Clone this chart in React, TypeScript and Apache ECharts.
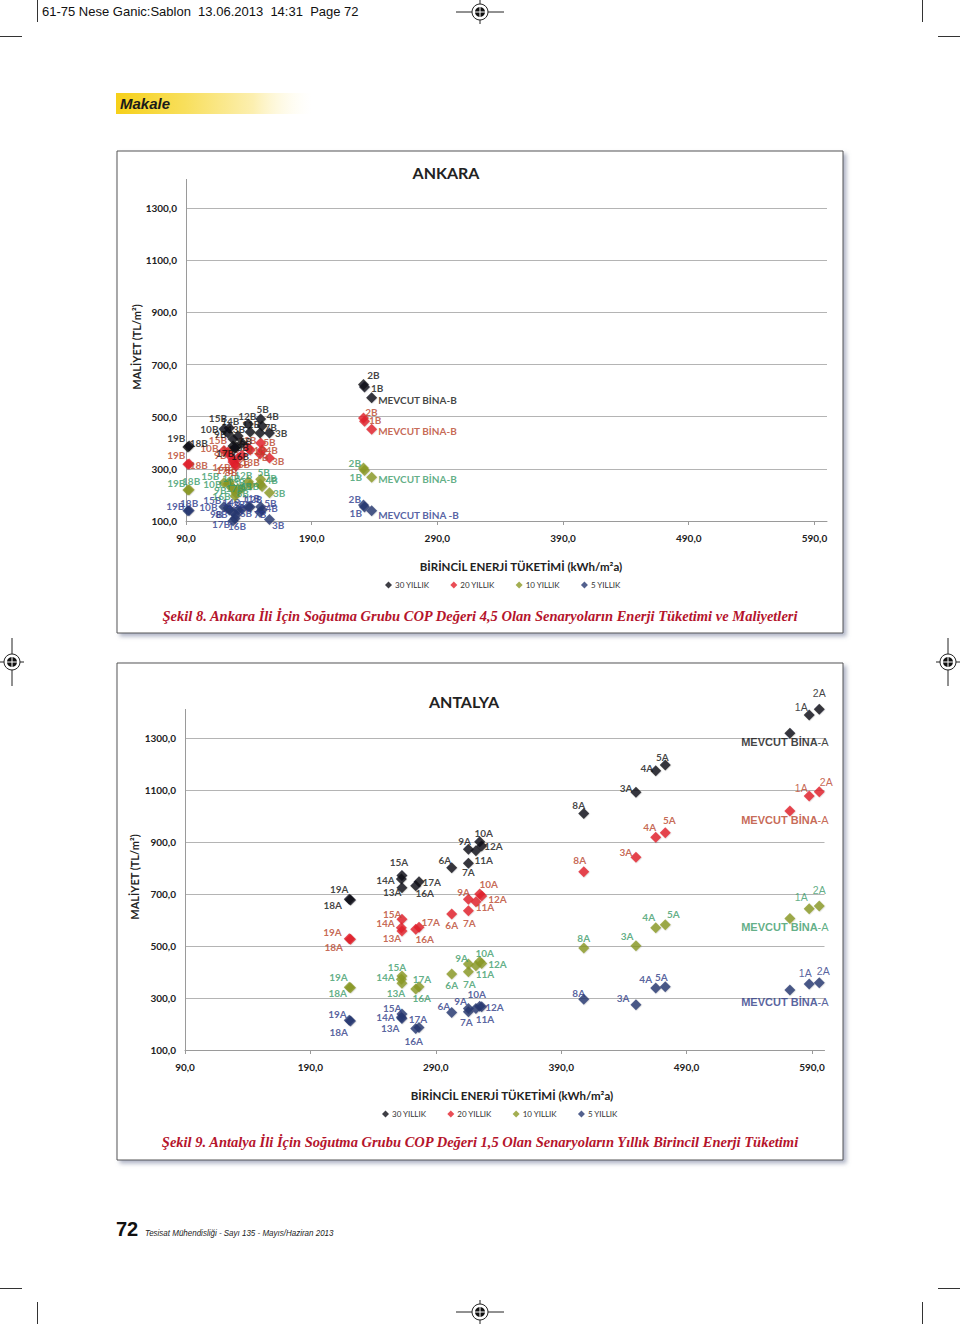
import React, { useEffect, useRef } from 'react';
import * as echarts from 'echarts';

const SERIES_NAMES = ['30 YILLIK', '20 YILLIK', '10 YILLIK', '5 YILLIK'];
const MARKER_COLORS = ['#0e0e16', '#e3212b', '#8c9a26', '#283a72'];
const ANKARA_LABEL_COLORS = ['#111111', '#b8432a', '#3a9a68', '#2c3a8c'];
const ANTALYA_LABEL_COLORS = ['#111111', '#b8432a', '#3a9a68', '#2e3b86'];

// ---- ANKARA (COP 4,5) ----
const ANKARA_SCENARIOS = ['19B', '18B', '15B', '10B', '14B', '9B', '17B', '16B', '8B', '13B', '6B', '11B', '12B', '5B', '4B', '7B', '3B', '2B', '1B', 'MEVCUT BİNA-B'];
const ANKARA_ENERGY = [91.5, 92.5, 120.2, 123.4, 124.5, 127.4, 127.4, 129.0, 129.8, 131.4, 134.5, 141.0, 139.6, 149.4, 150.5, 148.9, 156.4, 231.2, 232.0, 237.7];
const ANKARA_COST_30 = [384, 388, 453, 437, 457, 414, 388, 380, 384, 426, 399, 441, 472, 491, 464, 437, 437, 623, 614, 573];
const ANKARA_COST_20 = [318, 319, 370, 365, 353, 334, 326, 318, 311, 342, 353, 372, 380, 399, 372, 357, 342, 495, 483, 452];
const ANKARA_COST_10 = [219, 220, 247, 242, 250, 226, 225, 196, 207, 223, 226, 238, 251, 260, 232, 242, 208, 303, 294, 268];
const ANKARA_COST_5 = [139, 140, 155, 150, 142, 134, 101, 110, 123, 142, 145, 154, 155, 155, 142, 134, 106, 161, 154, 139];

// ---- ANTALYA (COP 1,5) ----
const ANTALYA_SCENARIOS = ['19A', '18A', '15A', '14A', '13A', '17A', '16A', '6A', '7A', '9A', '11A', '10A', '12A', '8A', '3A', '4A', '5A', 'MEVCUT BİNA-A', '1A', '2A'];
const ANTALYA_ENERGY = [221.0, 222.0, 263.0, 262.5, 263.0, 276.6, 274.0, 302.7, 316.0, 316.0, 322.0, 325.0, 326.6, 408.0, 449.6, 465.4, 473.0, 572.4, 587.8, 595.8];
const ANTALYA_COST_30 = [680, 677, 771, 758, 724, 747, 732, 801, 818, 872, 866, 901, 885, 1010, 1091, 1174, 1196, 1318, 1388, 1411];
const ANTALYA_COST_20 = [528, 526, 603, 570, 558, 572, 564, 623, 636, 680, 670, 700, 692, 786, 841, 918, 936, 1019, 1077, 1093];
const ANTALYA_COST_10 = [341, 339, 385, 372, 357, 343, 335, 392, 401, 431, 424, 440, 433, 492, 501, 570, 582, 606, 643, 654];
const ANTALYA_COST_5 = [214, 212, 238, 226, 221, 187, 183, 244, 247, 260, 260, 268, 266, 295, 274, 338, 343, 331, 354, 359];

const Y_MIN = 100;
const Y_MAX = 1410;
const Y_STEP = 200;
const X_MIN = 90;
const X_MAX = 600;
const X_STEP = 100;

// label placement (layout only): [position, dx, dy, text?]
type Place = [string, number, number, string?];
const ANKARA_PLACE: Record<string, Place> = {
  '19B': ['left', 4, -9], '18B': ['right', -6, -3], '15B': ['top', -6, 1], '14B': ['top', 1, 5],
  '10B': ['left', -3, -4], '9B': ['left', 0, -5], '13B': ['top', -2, 5], '12B': ['top', -1, 4],
  '5B': ['top', 2, 1], '4B': ['right', -2, -10], '7B': ['right', -2, -6], '3B': ['right', -1, 0],
  '11B': ['top', 1, 3], '6B': ['right', -9, -2], '8B': ['right', -6, 0], '16B': ['bottom', 5, -3],
  '17B': ['bottom', -8, -4], '2B': ['top', 10, 2], '1B': ['right', 0, 1], 'MEVCUT BİNA-B': ['right', 0, 2],
};
const ANKARA_OVERRIDE: Record<string, Place> = {
  '1:2B': ['top', 8, 6], '1:1B': ['right', -2, -1], '1:16B': ['left', 2, 3], '1:13B': ['right', -3, 4],
  '1:5B': ['right', -4, -1], '1:4B': ['right', -3, 0], '1:7B': ['bottom', 2, -8], '1:3B': ['right', -4, 3],
  '1:6B': ['bottom', 2, -3], '1:8B': ['bottom', -5, -5], '1:11B': ['right', -9, 0], '1:18B': ['right', -6, 1],
  '2:2B': ['left', 4, -5], '2:1B': ['left', 4, 7], '2:15B': ['left', 2, -7], '2:18B': ['top', 2, 3],
  '2:10B': ['left', 0, 0], '2:14B': ['top', 2, 8], '2:9B': ['left', 0, 2], '2:17B': ['right', -14, 0],
  '2:16B': ['left', 2, 0], '2:12B': ['top', -5, 5], '2:5B': ['top', 3, 4], '2:4B': ['right', -3, -7],
  '2:11B': ['bottom', 0, -11], '2:3B': ['right', -3, 0], '2:19B': ['left', 4, -7],
  '3:2B': ['left', 4, -6], '3:1B': ['left', 4, 6], '3:MEVCUT BİNA-B': ['right', 0, 4, 'MEVCUT BİNA -B'],
  '3:19B': ['left', 3, -5], '3:18B': ['top', 0, 4], '3:15B': ['left', 4, -7], '3:10B': ['left', -4, -1],
  '3:9B': ['left', -4, 2], '3:8B': ['left', -2, -1], '3:14B': ['top', 2, 3], '3:12B': ['top', 5, 4],
  '3:5B': ['right', -3, -4], '3:4B': ['right', -3, -2], '3:7B': ['bottom', 0, -10], '3:6B': ['bottom', 4, -8],
  '3:3B': ['right', -4, 6], '3:17B': ['bottom', -12, -8], '3:16B': ['bottom', 2, -4],
};
const ANTALYA_PLACE: Record<string, Place> = {
  '1A': ['left', 5, -8], '2A': ['top', 0, -4], 'MEVCUT BİNA-A': ['bottom', -5, -3], '5A': ['top', -3, 3],
  '4A': ['left', 4, -3], '3A': ['left', 3, -4], '8A': ['top', -5, 3], '10A': ['top', 4, 3],
  '9A': ['left', 9, -8], '12A': ['right', -4, 0], '11A': ['right', -8, 9], '6A': ['left', 6, -8],
  '7A': ['bottom', 0, -3], '15A': ['top', -3, -2], '14A': ['left', 0, 1], '13A': ['left', 6, 4],
  '17A': ['right', -3, 0], '16A': ['bottom', 9, -4], '19A': ['top', -10, 1], '18A': ['left', -2, 5],
};
const ANTALYA_OVERRIDE: Record<string, Place> = {
  '1:2A': ['top', 7, 2], '1:5A': ['top', 4, -1], '1:4A': ['top', -6, 1], '1:3A': ['top', -10, 6],
  '1:8A': ['top', -4, 0], '1:10A': ['top', 9, 1], '1:12A': ['right', 0, 3], '1:11A': ['bottom', 9, -6],
  '1:9A': ['left', 8, -7], '1:7A': ['bottom', 1, 1], '1:6A': ['bottom', 0, -1], '1:17A': ['right', -4, -5],
  '1:16A': ['bottom', 9, -2], '1:15A': ['left', 6, -5], '1:14A': ['left', 0, -5], '1:13A': ['bottom', -10, -4],
  '1:19A': ['left', -1, -7], '1:18A': ['left', -1, 8],
  '2:1A': ['left', 5, -12], '2:5A': ['top', 8, 1], '2:4A': ['top', -7, 1], '2:3A': ['left', 4, -10],
  '2:8A': ['top', 0, 1], '2:10A': ['top', 5, 3], '2:12A': ['right', 0, 1], '2:11A': ['bottom', 9, -3],
  '2:9A': ['left', 6, -6], '2:7A': ['bottom', 1, 1], '2:6A': ['bottom', 0, -1], '2:17A': ['top', 3, 4],
  '2:16A': ['bottom', 6, -2], '2:15A': ['top', -5, 3], '2:14A': ['left', 0, -2], '2:13A': ['bottom', -6, -2],
  '2:19A': ['left', 5, -10], '2:18A': ['left', 3, 5],
  '3:2A': ['top', 4, 0], '3:1A': ['left', 9, -11], '3:MEVCUT BİNA-A': ['bottom', -5, 0], '3:5A': ['top', -4, 2],
  '3:4A': ['top', -10, 2], '3:3A': ['left', 0, -7], '3:8A': ['top', -5, 5], '3:10A': ['top', -3, -1],
  '3:12A': ['right', -3, 0], '3:11A': ['bottom', 9, -1], '3:9A': ['left', 5, -7], '3:7A': ['bottom', -2, -1],
  '3:6A': ['left', 5, -7], '3:17A': ['top', -1, 3], '3:16A': ['bottom', -2, 1], '3:15A': ['left', 6, -6],
  '3:14A': ['left', 0, 0], '3:13A': ['left', 4, 9], '3:19A': ['left', 4, -6], '3:18A': ['left', 4, 11],
};

const fmt = (v: number) => v.toFixed(1).replace('.', ',');
const LABEL_FONT = 'Lato, "Open Sans", sans-serif';

function buildSeries(
  gridIdx: number, names: string[], xs: number[], costs: number[][],
  place: Record<string, Place>, over: Record<string, Place>, labelColors: string[], antalya: boolean,
) {
  return costs.map((ys, si) => {
    const places = names.map((n) => over[`${si}:${n}`] || place[n] || (['right', 0, 0] as Place));
    return {
      type: 'scatter',
      name: SERIES_NAMES[si],
      xAxisIndex: gridIdx,
      yAxisIndex: gridIdx,
      symbol: 'diamond',
      symbolSize: 11,
      clip: false,
      z: 10 - si,
      itemStyle: { color: MARKER_COLORS[si], shadowColor: 'rgba(0,0,0,0.25)', shadowBlur: 1, shadowOffsetX: 0.5, shadowOffsetY: 0.5 },
      labelLayout: (p: any) => {
        const pl = places[p.dataIndex];
        return { dx: pl ? pl[1] : 0, dy: pl ? pl[2] : 0, hideOverlap: false };
      },
      label: {
        show: true,
        color: labelColors[si],
        fontFamily: LABEL_FONT,
        fontWeight: 'bold',
        fontSize: 10,
        distance: 1,
        rich: {
          m: { fontFamily: '"Liberation Sans", Arial, sans-serif', fontWeight: 'bold', fontSize: 11, color: labelColors[si] },
          n: { fontFamily: '"Liberation Sans", Arial, sans-serif', fontWeight: 'normal', fontSize: 11, color: labelColors[si] },
          a: { fontFamily: '"Liberation Sans", Arial, sans-serif', fontWeight: 'normal', fontSize: 10.5, color: labelColors[si] },
        },
      },
      data: names.map((n, i) => {
        const p = places[i];
        let text = p[3] || n;
        if (antalya && n.startsWith('MEVCUT')) text = '{m|MEVCUT BİNA}{n|-A}';
        else if (antalya && (n === '1A' || n === '2A')) text = `{a|${n}}`;
        return {
          name: n,
          value: [xs[i], ys[i]],
          label: { position: p[0], formatter: text },
        };
      }),
    };
  });
}

function axesFor(gridIdx: number) {
  const labelStyle = { color: '#222', fontFamily: LABEL_FONT, fontWeight: 'bold', fontSize: 10 };
  return {
    x: {
      type: 'value', gridIndex: gridIdx, min: X_MIN, max: X_MAX, interval: X_STEP,
      axisLine: { show: true, lineStyle: { color: '#9a9a9a' } },
      axisTick: { show: true, length: 4, lineStyle: { color: '#9a9a9a' } },
      splitLine: { show: false },
      axisLabel: { ...labelStyle, margin: 12, formatter: fmt, showMaxLabel: false },
    },
    y: {
      type: 'value', gridIndex: gridIdx, min: Y_MIN, max: Y_MAX, interval: Y_STEP,
      axisLine: { show: true, onZero: false, lineStyle: { color: '#9a9a9a' } },
      axisTick: { show: false },
      splitLine: { show: true, showMaxLine: false, lineStyle: { color: '#b4b4b4', width: 1 } },
      axisLabel: { ...labelStyle, margin: 9, formatter: fmt, showMaxLabel: false },
    },
  };
}

function regMark(cx: number, cy: number, vertical: boolean) {
  const els: any[] = [];
  if (vertical) {
    els.push({ type: 'line', shape: { x1: cx, y1: cy - 24, x2: cx, y2: cy + 24 }, style: { stroke: '#222', lineWidth: 1 } });
    els.push({ type: 'line', shape: { x1: cx - 12, y1: cy, x2: cx + 12, y2: cy }, style: { stroke: '#222', lineWidth: 1 } });
  } else {
    els.push({ type: 'line', shape: { x1: cx - 24, y1: cy, x2: cx + 24, y2: cy }, style: { stroke: '#222', lineWidth: 1 } });
    els.push({ type: 'line', shape: { x1: cx, y1: cy - 12, x2: cx, y2: cy + 12 }, style: { stroke: '#222', lineWidth: 1 } });
  }
  els.push({ type: 'circle', shape: { cx, cy, r: 8 }, style: { fill: '#fff', stroke: '#222', lineWidth: 1 } });
  els.push({ type: 'circle', shape: { cx, cy, r: 5 }, style: { fill: '#111' } });
  els.push({ type: 'line', shape: { x1: cx - 5, y1: cy, x2: cx + 5, y2: cy }, style: { stroke: '#fff', lineWidth: 1 } });
  els.push({ type: 'line', shape: { x1: cx, y1: cy - 5, x2: cx, y2: cy + 5 }, style: { stroke: '#fff', lineWidth: 1 } });
  return els;
}

function txt(x: number, y: number, text: string, font: string, fill: string, align = 'left', extra: any = {}) {
  return { type: 'text', x, y, z: 100, ...extra, style: { text, font, fill, textAlign: align, textVerticalAlign: 'middle' } };
}

export default function App() {
  const ref = useRef<HTMLDivElement>(null);
  useEffect(() => {
    if (!ref.current) return;
    const chart = echarts.init(ref.current, undefined, { renderer: 'svg', width: 960, height: 1324 });
    const a0 = axesFor(0);
    const a1 = axesFor(1);
    const cropStroke = { stroke: '#333', lineWidth: 1 };
    const graphic: any[] = [
      { type: 'line', shape: { x1: 37.5, y1: 0, x2: 37.5, y2: 22 }, style: cropStroke },
      { type: 'line', shape: { x1: 0, y1: 36.5, x2: 22, y2: 36.5 }, style: cropStroke },
      { type: 'line', shape: { x1: 922.5, y1: 0, x2: 922.5, y2: 22 }, style: cropStroke },
      { type: 'line', shape: { x1: 938, y1: 36.5, x2: 960, y2: 36.5 }, style: cropStroke },
      { type: 'line', shape: { x1: 0, y1: 1288.5, x2: 22, y2: 1288.5 }, style: cropStroke },
      { type: 'line', shape: { x1: 37.5, y1: 1302, x2: 37.5, y2: 1324 }, style: cropStroke },
      { type: 'line', shape: { x1: 938, y1: 1288.5, x2: 960, y2: 1288.5 }, style: cropStroke },
      { type: 'line', shape: { x1: 922.5, y1: 1302, x2: 922.5, y2: 1324 }, style: cropStroke },
      ...regMark(480, 12, false),
      ...regMark(12, 662, true),
      ...regMark(948, 662, true),
      ...regMark(480, 1312, false),
      txt(42, 11, '61-75 Nese Ganic:Sablon  13.06.2013  14:31  Page 72', '13px "Liberation Sans", Arial, sans-serif', '#111'),
      {
        type: 'rect', shape: { x: 116, y: 93, width: 196, height: 21 },
        style: {
          fill: {
            type: 'linear', x: 0, y: 0, x2: 1, y2: 0,
            colorStops: [
              { offset: 0, color: '#f6d019' }, { offset: 0.35, color: '#f8df5c' },
              { offset: 0.7, color: '#fcefb0' }, { offset: 1, color: 'rgba(255,252,235,0)' },
            ],
          },
        },
      },
      txt(120, 103.5, 'Makale', 'italic bold 15px "Liberation Sans", Arial, sans-serif', '#1a1a1a'),
      {
        type: 'rect', z: -10, shape: { x: 117, y: 151, width: 726, height: 482 },
        style: { fill: '#fff', stroke: '#555', lineWidth: 1, shadowColor: 'rgba(110,120,150,0.55)', shadowBlur: 4, shadowOffsetX: 3, shadowOffsetY: 3 },
      },
      {
        type: 'rect', z: -10, shape: { x: 117, y: 663, width: 726, height: 497 },
        style: { fill: '#fff', stroke: '#555', lineWidth: 1, shadowColor: 'rgba(110,120,150,0.55)', shadowBlur: 4, shadowOffsetX: 3, shadowOffsetY: 3 },
      },
      txt(446, 172, 'ANKARA', `bold 16px ${LABEL_FONT}`, '#222', 'center'),
      txt(464, 701, 'ANTALYA', `bold 16px ${LABEL_FONT}`, '#222', 'center'),
      txt(136, 347, 'MALİYET (TL/m²)', `bold 11px ${LABEL_FONT}`, '#222', 'center', { rotation: Math.PI / 2 }),
      txt(134, 877, 'MALİYET (TL/m²)', `bold 11px ${LABEL_FONT}`, '#222', 'center', { rotation: Math.PI / 2 }),
      txt(521, 566, 'BİRİNCİL ENERJİ TÜKETİMİ (kWh/m²a)', `bold 11.5px ${LABEL_FONT}`, '#222', 'center'),
      txt(512, 1095, 'BİRİNCİL ENERJİ TÜKETİMİ (kWh/m²a)', `bold 11.5px ${LABEL_FONT}`, '#222', 'center'),
      txt(480, 616, 'Şekil 8. Ankara İli İçin Soğutma Grubu COP Değeri 4,5 Olan Senaryoların Enerji Tüketimi ve Maliyetleri',
        'italic bold 14.5px "Liberation Serif", "Times New Roman", serif', '#b5142c', 'center'),
      txt(480, 1142, 'Şekil 9. Antalya İli İçin Soğutma Grubu COP Değeri 1,5 Olan Senaryoların Yıllık Birincil Enerji Tüketimi',
        'italic bold 14.5px "Liberation Serif", "Times New Roman", serif', '#b5142c', 'center'),
      txt(116, 1229, '72', 'bold 20px "Liberation Sans", Arial, sans-serif', '#111'),
      txt(145, 1233, 'Tesisat Mühendisliği - Sayı 135 - Mayıs/Haziran 2013', 'italic 9px "Liberation Sans", Arial, sans-serif', '#222', 'left', { scaleX: 0.89 }),
    ];

    const legendCommon = {
      icon: 'diamond', itemWidth: 7, itemHeight: 7, itemGap: 21, orient: 'horizontal',
      textStyle: { fontFamily: LABEL_FONT, fontSize: 8, color: '#333', padding: [0, 0, 0, -2] },
      data: SERIES_NAMES,
      selectedMode: false,
    };

    chart.setOption({
      animation: false,
      backgroundColor: '#fff',
      grid: [
        { left: 186, top: 179.4, width: 641, height: 341.6, containLabel: false },
        { left: 185, top: 709.4, width: 639.5, height: 340.6, containLabel: false },
      ],
      xAxis: [a0.x, a1.x],
      yAxis: [a0.y, a1.y],
      legend: [
        { ...legendCommon, left: 380, top: 576 },
        { ...legendCommon, left: 377, top: 1105 },
      ],
      graphic,
      series: [
        ...buildSeries(0, ANKARA_SCENARIOS, ANKARA_ENERGY, [ANKARA_COST_30, ANKARA_COST_20, ANKARA_COST_10, ANKARA_COST_5], ANKARA_PLACE, ANKARA_OVERRIDE, ANKARA_LABEL_COLORS, false),
        ...buildSeries(1, ANTALYA_SCENARIOS, ANTALYA_ENERGY, [ANTALYA_COST_30, ANTALYA_COST_20, ANTALYA_COST_10, ANTALYA_COST_5], ANTALYA_PLACE, ANTALYA_OVERRIDE, ANTALYA_LABEL_COLORS, true),
      ],
    });
    return () => chart.dispose();
  }, []);
  return <div ref={ref} style={{ position: 'absolute', left: 0, top: 0, width: 960, height: 1324, background: '#fff' }} />;
}
